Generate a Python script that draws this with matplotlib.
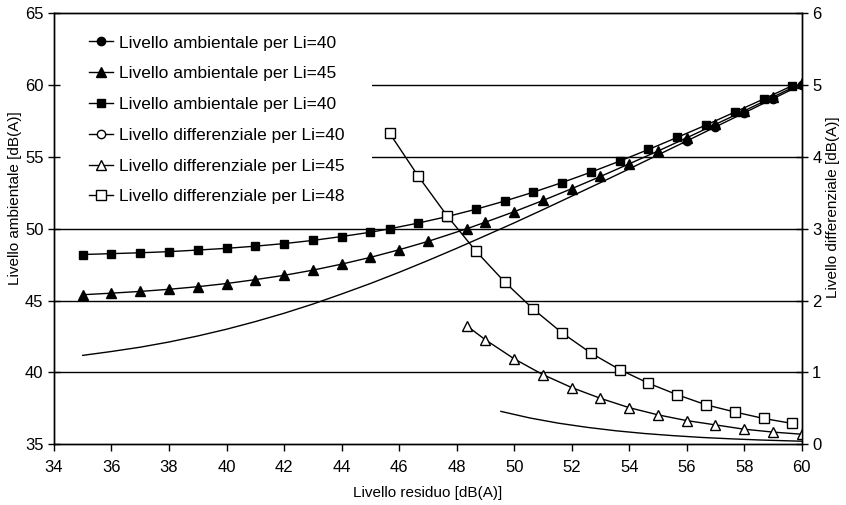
import matplotlib
matplotlib.use("Agg")
import matplotlib.pyplot as plt
from matplotlib.lines import Line2D
from matplotlib.patches import Rectangle

plt.rcParams['font.family'] = ['Liberation Sans', 'DejaVu Sans']

# Residual levels (x) and ambient levels (left axis)
x_amb40 = [35, 36, 37, 38, 39, 40, 41, 42, 43, 44, 45, 46, 47, 48, 49, 50,
           51, 52, 53, 54, 55, 56, 57, 58, 59, 60]
y_amb40 = [41.19, 41.46, 41.76, 42.12, 42.54, 43.01, 43.54, 44.12, 44.76, 45.46,
           46.19, 46.97, 47.79, 48.64, 49.52, 50.41, 51.33, 52.27, 53.21, 54.17,
           55.14, 56.11, 57.09, 58.07, 59.05, 60.04]

x_amb45 = [35, 36, 37, 38, 39, 40, 41, 42, 43, 44, 45, 46, 47, 48.35, 49, 50,
           51, 52, 53, 54, 55, 56, 57, 58, 59, 60]
y_amb45 = [45.41, 45.52, 45.64, 45.79, 45.97, 46.19, 46.46, 46.76, 47.12, 47.54,
           48.01, 48.54, 49.12, 50.00, 50.46, 51.19, 51.97, 52.79, 53.64, 54.52,
           55.41, 56.33, 57.27, 58.21, 59.17, 60.14]

x_amb48 = [35, 36, 37, 38, 39, 40, 41, 42, 43, 44, 45, 45.67, 46.67, 47.67, 48.67,
           49.67, 50.67, 51.67, 52.67, 53.67, 54.67, 55.67, 56.67, 57.67, 58.67, 59.67]
y_amb48 = [48.21, 48.27, 48.33, 48.41, 48.52, 48.64, 48.79, 48.97, 49.19, 49.46,
           49.76, 50.00, 50.40, 50.85, 51.36, 51.93, 52.55, 53.22, 53.94, 54.71,
           55.52, 56.36, 57.22, 58.12, 59.03, 59.96]

# Differential levels (right axis)
x_dif40 = [49.54, 50.54, 51.54, 52.54, 53.54, 54.54, 55.54, 56.54, 57.54, 58.54, 59.54, 60]
y_dif40 = [0.458, 0.367, 0.294, 0.236, 0.188, 0.150, 0.120, 0.095, 0.076, 0.060, 0.048, 0.043]

x_dif45 = [48.35, 49, 50, 51, 52, 53, 54, 55, 56, 57, 58, 59, 60]
y_dif45 = [1.65, 1.455, 1.19, 0.97, 0.79, 0.64, 0.51, 0.41, 0.33, 0.27, 0.21, 0.17, 0.14]

x_dif48 = [45.67, 46.67, 47.67, 48.67, 49.67, 50.67, 51.67, 52.67, 53.67, 54.67,
           55.67, 56.67, 57.67, 58.67, 59.67]
y_dif48 = [4.33, 3.73, 3.18, 2.69, 2.26, 1.88, 1.55, 1.27, 1.04, 0.85, 0.69, 0.55,
           0.45, 0.36, 0.29]

labels = ["Livello ambientale per Li=40", "Livello ambientale per Li=45",
          "Livello ambientale per Li=40", "Livello differenziale per Li=40",
          "Livello differenziale per Li=45", "Livello differenziale per Li=48"]

x_ticks = list(range(34, 61, 2))
left_ticks = [35, 40, 45, 50, 55, 60, 65]
right_ticks = [0, 1, 2, 3, 4, 5, 6]

fig = plt.figure(figsize=(8.46, 5.05), dpi=100)
ax = fig.add_axes([0.0638, 0.1202, 0.8839, 0.8535])
ax2 = ax.twinx()

lw = 1.0
ms = 6
l1, = ax.plot(x_amb40, y_amb40, color='black', lw=lw, marker='o', ms=ms,
              markevery=list(range(21, 26)), mfc='black', mec='black')
l2, = ax.plot(x_amb45, y_amb45, color='black', lw=lw, marker='^', ms=ms + 0.5,
              mfc='black', mec='black')
l3, = ax.plot(x_amb48, y_amb48, color='black', lw=lw, marker='s', ms=ms,
              mfc='black', mec='black')

l4, = ax2.plot(x_dif40, y_dif40, color='black', lw=lw)
l5, = ax2.plot(x_dif45, y_dif45, color='black', lw=lw, marker='^', ms=ms + 1,
               mfc='white', mec='black', mew=1.0)
l6, = ax2.plot(x_dif48, y_dif48, color='black', lw=lw, marker='s', ms=ms + 1,
               mfc='white', mec='black', mew=1.0)

h4 = Line2D([], [], color='black', lw=lw, marker='o', ms=ms, mfc='white', mec='black')

ax.set_xlim(34, 60)
ax.set_ylim(35, 65)
ax2.set_ylim(0, 6)
ax.set_xticks(x_ticks)
ax.set_yticks(left_ticks)
ax2.set_yticks(right_ticks)

for y in left_ticks[1:-1]:
    ax.axhline(y, color='black', lw=1.0, zorder=0.5)

# white background area of the legend (hides gridlines behind it)
ax.add_patch(Rectangle((0.0, 0.52), 0.425, 0.47, transform=ax.transAxes,
                       facecolor='white', edgecolor='none', zorder=1))

for a in (ax, ax2):
    for s in a.spines.values():
        s.set_linewidth(1.0)
        s.set_color('black')

ax.tick_params(axis='x', direction='out', length=5, width=1.0, labelsize=12, pad=6)
ax.tick_params(axis='y', direction='inout', length=9, width=1.0, labelsize=12, pad=3)
ax2.tick_params(axis='y', direction='inout', length=9, width=1.0, labelsize=12, pad=3)

ax.set_xlabel("Livello residuo [dB(A)]", fontsize=11, labelpad=8)
ax.set_ylabel("Livello ambientale [dB(A)]", fontsize=11)
ax2.set_ylabel("Livello differenziale [dB(A)]", fontsize=11, rotation=90)
ax.yaxis.set_label_coords(-0.043, 0.571)
ax2.yaxis.set_label_coords(1.0325, 0.551)

leg = ax2.legend([l1, l2, l3, h4, l5, l6], labels, loc='upper left',
                 bbox_to_anchor=(0.026, 0.985), fontsize=12.5, frameon=True,
                 facecolor='white', edgecolor='none', framealpha=1.0,
                 handlelength=1.4, handletextpad=0.35, labelspacing=0.9,
                 borderpad=0.4, fancybox=False)

fig.savefig("out.png", dpi=100)
